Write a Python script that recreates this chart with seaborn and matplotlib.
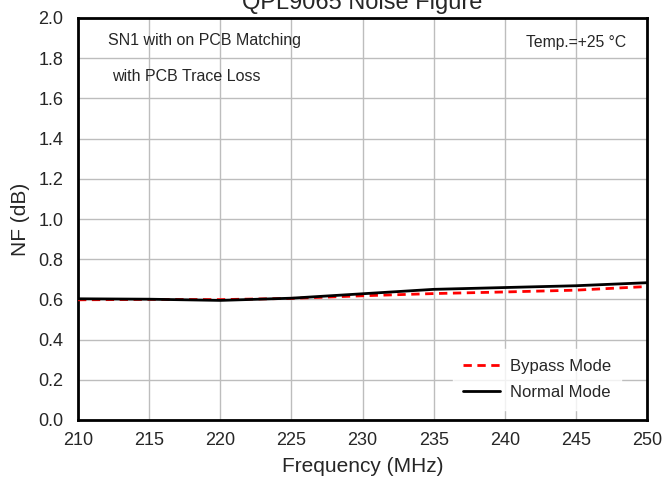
import numpy as np
import pandas as pd
import seaborn as sns
import matplotlib.pyplot as plt

# data
freq = [210, 215, 220, 225, 230, 235, 240, 245, 250]
nf_bypass = [0.598, 0.600, 0.599, 0.605, 0.618, 0.629, 0.637, 0.646, 0.664]
nf_normal = [0.603, 0.601, 0.595, 0.606, 0.628, 0.650, 0.659, 0.668, 0.683]
modes = ['Bypass Mode', 'Normal Mode']

df = pd.DataFrame({
    'freq': freq * 2,
    'nf': nf_bypass + nf_normal,
    'mode': [modes[0]] * len(freq) + [modes[1]] * len(freq),
})

sns.set_style('white')
plt.rcParams['font.family'] = ['Liberation Sans', 'DejaVu Sans']

fig = plt.figure(figsize=(6.63, 4.83), dpi=100)
ax = fig.add_axes([78 / 663, 1 - 420 / 483, 569 / 663, 402 / 483])

sns.lineplot(data=df, x='freq', y='nf', hue='mode', style='mode',
             palette={modes[0]: 'red', modes[1]: 'black'},
             dashes={modes[0]: (3, 2), modes[1]: ''},
             linewidth=2, ax=ax, zorder=3)

ax.set_xlim(210, 250)
ax.set_ylim(0, 2.0)
ax.set_xticks(np.arange(210, 251, 5))
ax.set_yticks(np.arange(0, 2.01, 0.2))
ax.set_yticklabels([f'{v:.1f}' for v in np.arange(0, 2.01, 0.2)])
ax.tick_params(labelsize=13, length=0)
ax.tick_params(axis='x', pad=8.5)
ax.tick_params(axis='y', pad=10.5)
ax.grid(True, color='#bdbdbd', linewidth=1)
for s in ax.spines.values():
    s.set_color('black')
    s.set_linewidth(2)

ax.set_xlabel('Frequency (MHz)', fontsize=15, labelpad=6)
ax.set_ylabel('NF (dB)', fontsize=15, labelpad=6)

leg = ax.legend(loc='lower right', frameon=True, fontsize=12, handlelength=2.2,
                handletextpad=0.6, borderpad=0.6, labelspacing=0.65,
                bbox_to_anchor=(0.969, 0.005))
leg.get_frame().set_facecolor('white')
leg.get_frame().set_edgecolor('white')

ax.text(0.052, 0.945, 'SN1 with on PCB Matching', transform=ax.transAxes,
        fontsize=11.5, va='center')
ax.text(0.06, 0.855, 'with PCB Trace Loss', transform=ax.transAxes,
        fontsize=11.5, va='center')
ax.text(0.963, 0.94, 'Temp.=+25 °C', transform=ax.transAxes,
        fontsize=11.3, va='center', ha='right')

fig.text(362 / 663, 1 - 9 / 483, 'QPL9065 Noise Figure', fontsize=17,
         ha='center', va='baseline')

fig.savefig('out.png', dpi=100)
